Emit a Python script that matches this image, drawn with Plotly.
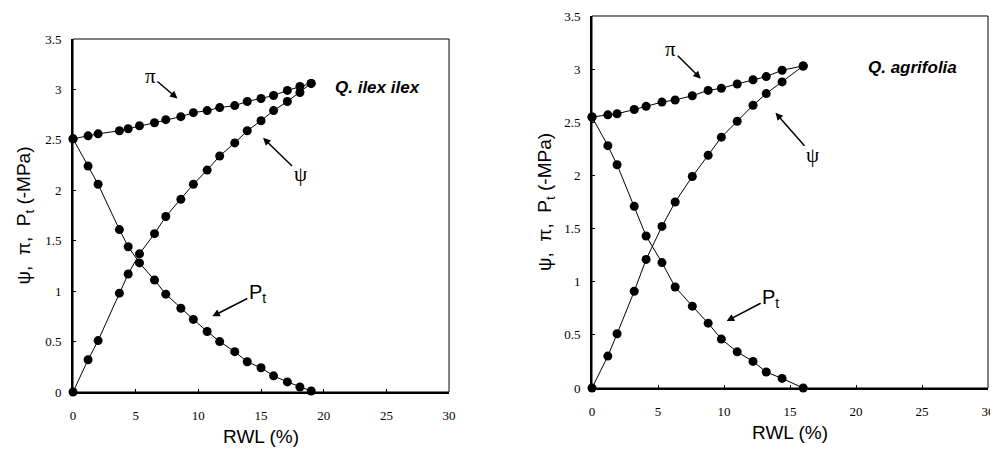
import plotly.graph_objects as go

# Left panel: Q. ilex ilex
rwl_L = [0, 1.2, 2.0, 3.7, 4.4, 5.3, 6.5, 7.4, 8.6, 9.6, 10.7, 11.7, 12.9, 13.9, 15.0, 16.0, 17.1, 18.1, 19.0]
pi_L  = [2.51, 2.54, 2.56, 2.59, 2.61, 2.64, 2.67, 2.70, 2.73, 2.77, 2.79, 2.82, 2.84, 2.88, 2.91, 2.94, 2.99, 3.03, 3.06]
psi_L = [0.0, 0.32, 0.51, 0.98, 1.17, 1.37, 1.57, 1.74, 1.91, 2.06, 2.20, 2.34, 2.47, 2.59, 2.69, 2.79, 2.88, 2.97, 3.06]
pt_L  = [2.51, 2.24, 2.06, 1.61, 1.44, 1.28, 1.11, 0.97, 0.83, 0.72, 0.60, 0.50, 0.40, 0.30, 0.24, 0.16, 0.10, 0.05, 0.01]

# Right panel: Q. agrifolia
rwl_R = [0, 1.2, 1.9, 3.2, 4.1, 5.3, 6.3, 7.6, 8.8, 9.8, 11.0, 12.2, 13.2, 14.4, 16.0]
pi_R  = [2.55, 2.57, 2.58, 2.62, 2.65, 2.69, 2.71, 2.75, 2.80, 2.82, 2.86, 2.90, 2.93, 2.99, 3.03]
psi_R = [0.0, 0.30, 0.51, 0.91, 1.21, 1.52, 1.75, 1.99, 2.19, 2.36, 2.51, 2.66, 2.77, 2.88, 3.03]
pt_R  = [2.55, 2.28, 2.10, 1.71, 1.43, 1.18, 0.95, 0.77, 0.61, 0.46, 0.34, 0.25, 0.15, 0.09, 0.0]

x_ticks = [0, 5, 10, 15, 20, 25, 30]
y_ticks = [0, 0.5, 1, 1.5, 2, 2.5, 3, 3.5]
y_ticklabels = ["0", "0.5", "1", "1.5", "2", "2.5", "3", "3.5"]

fig = go.Figure()

def add_series(x, ys, xa, ya):
    for y in ys:
        fig.add_trace(go.Scatter(
            x=x, y=y, mode="lines+markers", xaxis=xa, yaxis=ya,
            line=dict(color="black", width=1),
            marker=dict(color="black", size=9),
            cliponaxis=False, showlegend=False, hoverinfo="skip"))

add_series(rwl_L, [pi_L, psi_L, pt_L], "x", "y")
add_series(rwl_R, [pi_R, psi_R, pt_R], "x2", "y2")

tickfont = dict(family="Liberation Serif", size=13, color="black")
titlefont = dict(family="Liberation Sans", size=19, color="black")

def xaxis(domain, anchor):
    return dict(domain=domain, anchor=anchor, range=[0, 30], tickvals=x_ticks,
                showline=True, linecolor="black", linewidth=2, mirror=False,
                ticks="inside", ticklen=3, tickcolor="black", showgrid=False,
                zeroline=False, tickfont=tickfont, automargin=False,
                ticklabelstandoff=10,
                title=dict(text="RWL (%)", font=titlefont, standoff=8))

def yaxis(domain, anchor, standoff):
    return dict(domain=domain, anchor=anchor, range=[0, 3.5], tickvals=y_ticks,
                ticktext=y_ticklabels,
                showline=True, linecolor="black", linewidth=2, mirror=False,
                ticks="inside", ticklen=3, tickcolor="black", showgrid=False,
                zeroline=False, tickfont=tickfont, automargin=False,
                ticklabelstandoff=7,
                title=dict(text="ψ,  π,  P<sub>t</sub> (-MPa)", font=titlefont, standoff=standoff))

fig.update_layout(
    width=990, height=454,
    margin=dict(l=0, r=0, t=0, b=0),
    paper_bgcolor="white", plot_bgcolor="white",
    xaxis=xaxis([0.0657, 0.4455], "y"),
    yaxis=yaxis([0.1542, 0.9317], "x", 10),
    xaxis2=xaxis([0.5899, 0.9899], "y2"),
    yaxis2=yaxis([0.1630, 0.9824], "x2", 7),
)

# frame boxes
for xr, yr in [("x domain", "y domain"), ("x2 domain", "y2 domain")]:
    fig.add_shape(type="rect", xref=xr, yref=yr, x0=0, x1=1, y0=0, y1=1,
                  line=dict(color="black", width=1))

lblfont = dict(family="Liberation Serif", size=21, color="black")
ptfont = dict(family="Liberation Sans", size=20, color="black")
arrow = dict(showarrow=True, arrowhead=2, arrowsize=1, arrowwidth=1.5, arrowcolor="black")

anns = [
    dict(x=8.33, y=2.91, xref="x", yref="y", text="π", ax=-27, ay=-23, font=lblfont),
    dict(x=15.16, y=2.52, xref="x", yref="y", text="ψ", ax=37, ay=36, font=lblfont),
    dict(x=11.11, y=0.75, xref="x", yref="y", text="P<sub>t</sub>", ax=45, ay=-23, font=ptfont),
    dict(x=8.24, y=2.91, xref="x2", yref="y2", text="π", ax=-30, ay=-30, font=lblfont),
    dict(x=13.9, y=2.59, xref="x2", yref="y2", text="ψ", ax=37, ay=42, font=lblfont),
    dict(x=10.2, y=0.63, xref="x2", yref="y2", text="P<sub>t</sub>", ax=44, ay=-23, font=ptfont),
]
for a in anns:
    fig.add_annotation(**a, **arrow)

spfont = dict(family="Liberation Sans", size=17, color="black")
fig.add_annotation(x=24.3, y=3.02, xref="x", yref="y", text="<b><i>Q. ilex ilex</i></b>",
                   showarrow=False, font=spfont)
fig.add_annotation(x=24.3, y=3.02, xref="x2", yref="y2", text="<b><i>Q. agrifolia</i></b>",
                   showarrow=False, font=spfont)

fig.write_html("out.html")
